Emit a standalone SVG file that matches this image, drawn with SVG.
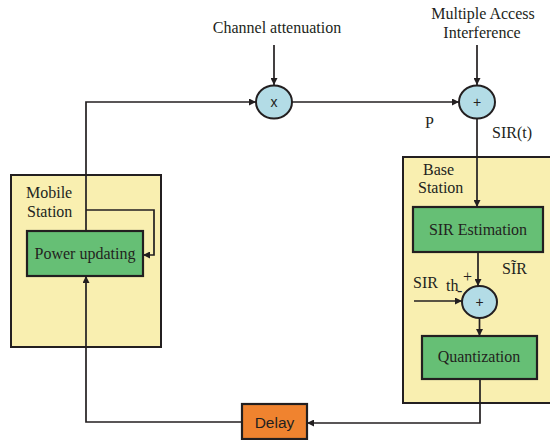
<svg xmlns="http://www.w3.org/2000/svg" width="550" height="440" viewBox="0 0 550 440">
<style>
.panel{fill:#F9EFB0;stroke:#231F20;stroke-width:2}
.blk{fill:#66BF75;stroke:#231F20;stroke-width:2.2}
.dly{fill:#F0832F;stroke:#231F20;stroke-width:2.2}
.op{fill:#B3DCE6;stroke:#231F20;stroke-width:2}
.ln{fill:none;stroke:#231F20;stroke-width:1.7}
.t{font-family:"Liberation Serif","Times New Roman",serif;font-size:16px;fill:#231F20}
.s{font-family:"Liberation Sans",Arial,sans-serif;fill:#231F20}
</style>
<defs>
<marker id="ah" viewBox="0 0 10 10" refX="10" refY="5" markerWidth="7" markerHeight="7" markerUnits="userSpaceOnUse" orient="auto">
<path d="M0,0 L10,5 L0,10 z" fill="#231F20"/>
</marker>
</defs>
<rect width="550" height="440" fill="#fff"/>
<g id="mobile-station">
<rect class="panel" x="11" y="175" width="150" height="172"/>
<text class="t" x="26" y="198">Mobile</text>
<text class="t" x="27" y="217">Station</text>
</g>
<g id="base-station">
<rect class="panel" x="403" y="157" width="160" height="246"/>
<text class="t" x="423" y="175">Base</text>
<text class="t" x="418" y="193">Station</text>
</g>
<g id="power-updating">
<rect class="blk" x="27" y="231" width="116" height="45"/>
<text class="t" x="85" y="259" text-anchor="middle">Power updating</text>
</g>
<g id="sir-estimation">
<rect class="blk" x="413" y="207" width="130" height="45"/>
<text class="t" x="478" y="235" text-anchor="middle">SIR Estimation</text>
</g>
<g id="quantization">
<rect class="blk" x="422" y="336" width="115" height="43"/>
<text class="t" x="479" y="362" text-anchor="middle">Quantization</text>
</g>
<g id="delay">
<rect class="dly" x="242" y="404" width="65" height="35"/>
<text class="s" x="274.5" y="428" font-size="15.5" text-anchor="middle">Delay</text>
</g>
<g id="multiplier">
<ellipse class="op" cx="274" cy="102" rx="18" ry="16.5"/>
<text class="s" x="274" y="107" font-size="14" text-anchor="middle">x</text>
</g>
<g id="adder-top">
<ellipse class="op" cx="477" cy="102" rx="18" ry="16.5"/>
<text class="s" x="477" y="107" font-size="14" text-anchor="middle">+</text>
</g>
<g id="adder-base">
<ellipse class="op" cx="479.5" cy="302" rx="17.5" ry="16"/>
<text class="s" x="479.5" y="307" font-size="14" text-anchor="middle">+</text>
</g>
<g id="labels">
<text class="t" x="277" y="33" text-anchor="middle">Channel attenuation</text>
<text class="t" x="483" y="19" text-anchor="middle">Multiple Access</text>
<text class="t" x="482" y="38" text-anchor="middle">Interference</text>
<text class="t" x="425" y="128">P</text>
<text class="t" x="492" y="138">SIR(t)</text>
<text class="t" x="502" y="274">SĨR</text>
<text class="t" x="413" y="288">SIR</text>
<text class="t" x="446" y="291" font-size="11">th</text>
<text class="t" x="457" y="296" font-size="15">-</text>
<text class="t" x="463" y="282" font-size="14">+</text>
</g>
<g id="connectors">
<path class="ln" d="M86,231 V102 H256" marker-end="url(#ah)"/>
<path class="ln" d="M86,210 H154 V255 H143" marker-end="url(#ah)"/>
<path class="ln" d="M274,45 V85" marker-end="url(#ah)"/>
<path class="ln" d="M292,102 H459" marker-end="url(#ah)"/>
<path class="ln" d="M477,45 V85" marker-end="url(#ah)"/>
<path class="ln" d="M477,118.5 V207" marker-end="url(#ah)"/>
<path class="ln" d="M478,252 V286" marker-end="url(#ah)"/>
<path class="ln" d="M414,301 H462" marker-end="url(#ah)"/>
<path class="ln" d="M479.5,318 V336" marker-end="url(#ah)"/>
<path class="ln" d="M480,379 V423 H307" marker-end="url(#ah)"/>
<path class="ln" d="M242,422 H86 V276" marker-end="url(#ah)"/>
</g>
</svg>
